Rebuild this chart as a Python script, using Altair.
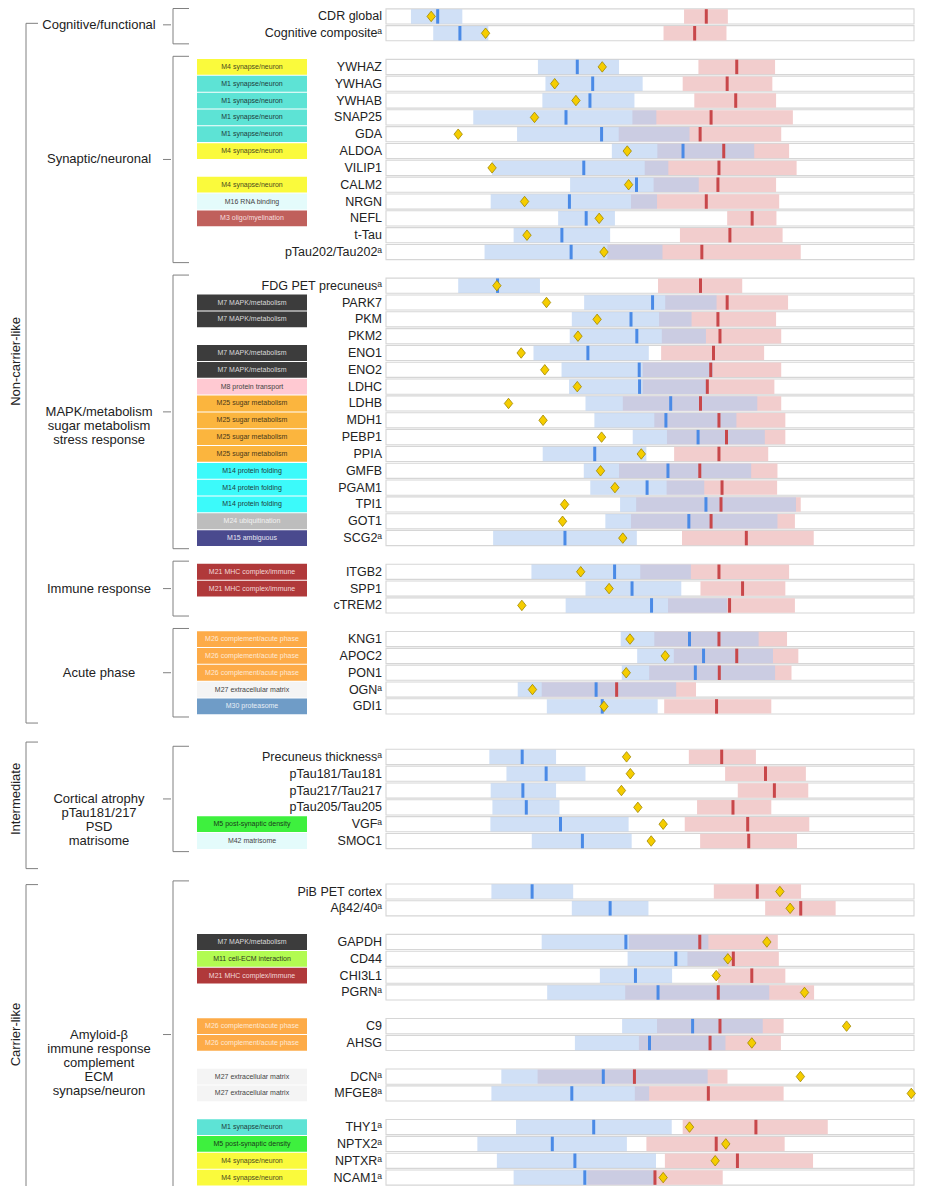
import altair as alt
import pandas as pd

# ---------------- data (arbitrary x units) ----------------
XMIN, XMAX = 20, 1563

labels = [
    "CDR global", "Cognitive compositeᵃ",
    "YWHAZ", "YWHAG", "YWHAB", "SNAP25", "GDA", "ALDOA", "VILIP1", "CALM2", "NRGN", "NEFL", "t-Tau", "pTau202/Tau202ᵃ",
    "FDG PET precuneusᵃ", "PARK7", "PKM", "PKM2", "ENO1", "ENO2", "LDHC", "LDHB", "MDH1", "PEBP1", "PPIA", "GMFB",
    "PGAM1", "TPI1", "GOT1", "SCG2ᵃ",
    "ITGB2", "SPP1", "cTREM2",
    "KNG1", "APOC2", "PON1", "OGNᵃ", "GDI1",
    "Precuneus thicknessᵃ", "pTau181/Tau181", "pTau217/Tau217", "pTau205/Tau205", "VGFᵃ", "SMOC1",
    "PiB PET cortex", "Aβ42/40ᵃ", "GAPDH", "CD44", "CHI3L1", "PGRNᵃ", "C9", "AHSG", "DCNᵃ", "MFGE8ᵃ",
    "THY1ᵃ", "NPTX2ᵃ", "NPTXRᵃ", "NCAM1ᵃ",
]

section = ["Non-carrier-like"] * 38 + ["Intermediate"] * 6 + ["Carrier-like"] * 14
subgroup = (["Cognitive/functional"] * 2 + ["Synaptic/neuronal"] * 12
            + ["MAPK/metabolism\nsugar metabolism\nstress response"] * 16
            + ["Immune response"] * 3 + ["Acute phase"] * 5
            + ["Cortical atrophy\npTau181/217\nPSD\nmatrisome"] * 6
            + ["Amyloid-β\nimmune response\ncomplement\nECM\nsynapse/neuron"] * 14)
cluster = [1] * 2 + [2] * 12 + [3] * 16 + [4] * 3 + [5] * 5 + [6] * 6 + [7] * 2 + [8] * 4 + [9] * 2 + [10] * 2 + [11] * 4

M1, M3, M4, M5 = "M1 synapse/neuron", "M3 oligo/myelination", "M4 synapse/neuron", "M5 post-synaptic density"
M7, M8, M11, M14 = "M7 MAPK/metabolism", "M8 protein transport", "M11 cell-ECM interaction", "M14 protein folding"
M15, M16, M21, M24 = "M15 ambiguous", "M16 RNA binding", "M21 MHC complex/immune", "M24 ubiquitination"
M25, M26, M27, M30, M42 = ("M25 sugar metabolism", "M26 complement/acute phase", "M27 extracellular matrix",
                           "M30 proteasome", "M42 matrisome")

modules = [
    "", "",
    M4, M1, M1, M1, M1, M4, "", M4, M16, M3, "", "",
    "", M7, M7, "", M7, M7, M8, M25, M25, M25, M25, M14, M14, M14, M24, M15,
    M21, M21, "",
    M26, M26, M26, M27, M30,
    "", "", "", "", M5, M42,
    "", "", M7, M11, M21, "", M26, M26, M27, M27, M1, M5, M4, M4,
]

blue_lo = [93, 158, 464, 486, 477, 275, 403, 680, 330, 558, 326, 523, 393, 308,
           231, 599, 563, 557, 451, 533, 555, 603, 629, 741, 478, 598, 617, 704, 661, 333,
           445, 603, 545, 706, 754, 709, 405, 490, 322, 372, 326, 331, 325, 446,
           328, 563, 475, 726, 645, 491, 710, 572, 357, 328, 400, 287, 344, 393]
blue_hi = [243, 319, 701, 770, 746, 810, 907, 1096, 845, 934, 812, 689, 675, 828,
           470, 986, 913, 955, 788, 975, 958, 1105, 1044, 1127, 781, 1087, 950, 1218, 1164, 753,
           911, 883, 1017, 1109, 1151, 1157, 868, 814, 517, 603, 517, 527, 729, 738,
           567, 787, 962, 1020, 856, 1140, 1121, 1012, 960, 789, 855, 724, 809, 808]
blue_med = [171, 236, 579, 624, 616, 546, 650, 888, 598, 752, 556, 605, 534, 561,
            346, 799, 736, 753, 610, 760, 761, 852, 838, 932, 630, 844, 783, 955, 905, 543,
            688, 739, 796, 907, 948, 924, 634, 652, 418, 488, 420, 430, 530, 594,
            447, 675, 721, 867, 749, 815, 916, 790, 655, 563, 627, 506, 572, 601]
red_lo = [891, 831, 933, 887, 921, 740, 700, 813, 776, 802, 736, 1017, 879, 667,
          815, 836, 818, 826, 824, 770, 770, 712, 804, 841, 862, 701, 840, 751, 736, 885,
          763, 939, 844, 804, 861, 789, 475, 833, 905, 1011, 1048, 929, 893, 938,
          978, 1128, 730, 901, 990, 719, 812, 759, 463, 747, 887, 781, 835, 608]
red_hi = [1019, 1015, 1157, 1149, 1160, 1209, 1175, 1198, 1220, 1160, 1169, 1161, 1179, 1232,
          1061, 1195, 1160, 1175, 1125, 1175, 1155, 1175, 1187, 1187, 1137, 1164, 1163, 1232, 1215, 1270,
          1198, 1187, 1215, 1192, 1225, 1205, 926, 1146, 1101, 1247, 1254, 1146, 1257, 1221,
          1233, 1334, 1165, 1168, 1187, 1271, 1182, 1174, 1018, 1182, 1311, 1185, 1268, 1004]
red_med = [956, 922, 1045, 1017, 1042, 970, 938, 1007, 993, 990, 956, 1090, 1025, 943,
           939, 1017, 990, 996, 977, 969, 959, 939, 993, 1015, 993, 937, 1002, 999, 970, 1073,
           993, 1062, 1024, 993, 1045, 994, 694, 986, 1001, 1129, 1155, 1034, 1077, 1080,
           1105, 1232, 937, 1035, 1089, 991, 996, 967, 746, 962, 1101, 985, 1047, 806]
diamond = [152, 311, 652, 513, 575, 454, 231, 725, 330, 729, 425, 643, 432, 657,
           344, 489, 637, 581, 415, 484, 579, 378, 479, 650, 766, 647, 689, 542, 536, 712,
           589, 672, 417, 733, 836, 722, 448, 657, 723, 734, 708, 756, 830, 795,
           1171, 1201, 1133, 1019, 985, 1243, 1366, 1089, 1231, 1555, 907, 1013, 982, 830]

# ---------------- styles ----------------
module_style = {
    M1: ("#5de3d5", "#1f3b3b"), M3: ("#c0605c", "#f6dede"), M4: ("#fafa3c", "#4a4a20"),
    M5: ("#3ef03e", "#1a3a1a"), M7: ("#3c3c3c", "#d8d8d8"), M8: ("#ffc9d2", "#444444"),
    M11: ("#b2fb52", "#2f3a20"), M14: ("#3cfafa", "#1f3b3b"), M15: ("#4a4a8e", "#e6e6f2"),
    M16: ("#e4fbfb", "#444444"), M21: ("#b0393a", "#f2d8d8"), M24: ("#bdbdbd", "#f2f2f2"),
    M25: ("#fbb53e", "#4a3a1a"), M26: ("#fdab48", "#fde9d6"), M27: ("#f4f4f4", "#444444"),
    M30: ("#6f9cc7", "#e6eef6"), M42: ("#e4fbfb", "#444444"),
}
section_pad = {"Non-carrier-like": (0.41, 0.99), "Intermediate": (-0.88, 1.64), "Carrier-like": (-0.41, 0.64)}
FONT = "Liberation Sans"
W, H = 908, 1178

# ---------------- tables ----------------
df = pd.DataFrame(dict(label=labels, module=modules, section=section, subgroup=subgroup, cluster=cluster,
                       bl=blue_lo, bh=blue_hi, bm=blue_med, rl=red_lo, rh=red_hi, rm=red_med, dm=diamond))
pos, p = [], 0
for i in range(len(df)):
    if i > 0:
        if section[i] != section[i - 1]:
            p += 3
        elif cluster[i] != cluster[i - 1]:
            p += 2
        else:
            p += 1
    pos.append(p)
df["pos"] = pos
df["y0"], df["y1"] = df.pos - 0.45, df.pos + 0.45
df["i0"], df["i1"] = df.pos - 0.43, df.pos + 0.43
df["m0"], df["m1"] = df.pos - 0.47, df.pos + 0.47
df["lo"], df["hi"] = XMIN, XMAX

mod = df[df.module != ""].copy()
mod["fill"] = [module_style[m][0] for m in mod.module]
mod["tcol"] = [module_style[m][1] for m in mod.module]

sub = df.groupby("subgroup", sort=False).pos.agg(["min", "max"]).reset_index()
sub["mid"] = (sub["min"] + sub["max"]) / 2
sub["top"] = (sub["min"] - 0.63).clip(lower=-0.47)
sub["bot"] = sub["max"] + 0.63

sec = df.groupby("section", sort=False).pos.agg(["min", "max"]).reset_index()
sec["mid"] = (sec["min"] + sec["max"]) / 2
sec["top"] = [r["min"] + section_pad[r.section][0] for _, r in sec.iterrows()]
sec["bot"] = [r["max"] + section_pad[r.section][1] for _, r in sec.iterrows()]

# ---------------- scales ----------------
X = alt.Scale(domain=[XMIN, XMAX], range=[378, 906], nice=False, zero=False)
Y = alt.Scale(domain=[-0.5, 69.5], reverse=True, nice=False, zero=False)


def yq(f):
    return alt.Y(f, type="quantitative", scale=Y, axis=None)


def xq(f):
    return alt.X(f, type="quantitative", scale=X, axis=None)


base = alt.Chart(df)
box = base.mark_rect(fill="white", stroke="#d6d6d6", strokeWidth=1.1).encode(
    x=xq("lo"), x2="hi", y=yq("y0"), y2="y1")
red = base.mark_rect(fill="#f2cdcd").encode(x=xq("rl"), x2="rh", y=yq("i0"), y2="i1")
blue = base.mark_rect(fill="rgb(177,203,240)", opacity=0.6).encode(x=xq("bl"), x2="bh", y=yq("i0"), y2="i1")
rmed = base.mark_rule(color="#c8474a", strokeWidth=3).encode(x=xq("rm"), y=yq("i0"), y2="i1")
bmed = base.mark_rule(color="#4a8ae6", strokeWidth=3).encode(x=xq("bm"), y=yq("i0"), y2="i1")
dia = base.mark_point(shape="M0,-1L0.8,0L0,1L-0.8,0Z", size=110, filled=True, fill="#f5cd00",
                      stroke="#a08600", strokeWidth=0.8, opacity=1).encode(x=xq("dm"), y=yq("pos"))
lab = base.mark_text(align="right", baseline="middle", fontSize=12.5, font=FONT, color="#222222").encode(
    x=alt.value(374), y=yq("pos"), text="label:N")

mbox = alt.Chart(mod).mark_rect().encode(
    x=alt.value(189), x2=alt.value(299), y=yq("m0"), y2="m1", fill=alt.Fill("fill:N", scale=None))
mtxt = alt.Chart(mod).mark_text(align="center", baseline="middle", fontSize=7, font=FONT).encode(
    x=alt.value(244), y=yq("pos"), text="module:N", color=alt.Color("tcol:N", scale=None))

BR = "#808080"
sc = alt.Chart(sub)
s_txt = sc.mark_text(align="center", baseline="middle", fontSize=13, font=FONT, lineBreak="\n",
                     lineHeight=14, color="#222222").encode(x=alt.value(91), y=yq("mid"), text="subgroup:N")
s_v = sc.mark_rule(color=BR, strokeWidth=1).encode(x=alt.value(165), y=yq("top"), y2="bot")
s_t1 = sc.mark_rule(color=BR, strokeWidth=1).encode(x=alt.value(165), x2=alt.value(181), y=yq("top"))
s_t2 = sc.mark_rule(color=BR, strokeWidth=1).encode(x=alt.value(165), x2=alt.value(181), y=yq("bot"))
s_d = sc.mark_rule(color=BR, strokeWidth=1).encode(x=alt.value(155), x2=alt.value(163), y=yq("mid"))

cc = alt.Chart(sec)
c_txt = cc.mark_text(align="center", baseline="middle", angle=270, fontSize=13, font=FONT,
                     color="#222222").encode(x=alt.value(8), y=yq("mid"), text="section:N")
c_v = cc.mark_rule(color=BR, strokeWidth=1).encode(x=alt.value(18), y=yq("top"), y2="bot")
c_t1 = cc.mark_rule(color=BR, strokeWidth=1).encode(x=alt.value(18), x2=alt.value(30), y=yq("top"))
c_t2 = cc.mark_rule(color=BR, strokeWidth=1).encode(x=alt.value(18), x2=alt.value(30), y=yq("bot"))

chart = alt.layer(
    box, red, blue, rmed, bmed, dia, lab, mbox, mtxt,
    s_v, s_t1, s_t2, s_d, s_txt, c_v, c_t1, c_t2, c_txt,
).properties(
    width=W, height=H, padding=0, autosize=alt.AutoSizeParams(type="none"),
).configure_view(stroke=None)

chart.save("out.html", embed_options={"renderer": "svg", "actions": False})
